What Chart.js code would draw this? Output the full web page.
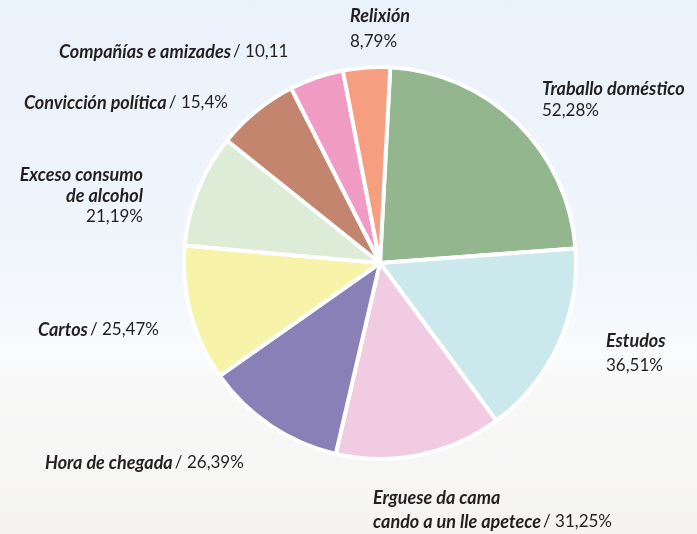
<!DOCTYPE html>
<html>
<head>
<meta charset="utf-8">
<script src="https://cdn.jsdelivr.net/npm/chart.js@4.4.1/dist/chart.umd.min.js"></script>
<style>
  html, body { margin: 0; padding: 0; }
  body {
    width: 697px; height: 534px; overflow: hidden;
    background: linear-gradient(to bottom, #e9f1fa 0%, #f1f6fc 50%, #f9fbfd 66%, #f9f9f9 70%, #f5f4f3 100%);
  }
  #wrap { position: relative; width: 697px; height: 534px; }
</style>
</head>
<body>
<div id="wrap"><canvas id="pie_chart" width="697" height="534"></canvas></div>
<script>
const categories = [
  'Traballo doméstico', 'Estudos', 'Erguese da cama cando a un lle apetece',
  'Hora de chegada', 'Cartos', 'Exceso consumo de alcohol',
  'Convicción política', 'Compañías e amizades', 'Relixión'
]
const values = [52.28, 36.51, 31.25, 26.39, 25.47, 21.19, 15.4, 10.11, 8.79]
const suffixes = ['%', '%', '%', '%', '%', '%', '%', '', '%']
const colors = [
  '#93b68f', '#cbe8ec', '#f0cbe1', '#8a80b8', '#f7f3a8',
  '#ddecd7', '#c3856d', '#ef9bc4', '#f59e80'
]

// how each label is broken into lines, where it sits relative to the pie centre
// (dx, dy of first line) and which way it is aligned; '/' puts the value inline
const labelLines = [
  [['Traballo doméstico'], ['@v']],
  [['Estudos'], ['@v']],
  [['Erguese da cama'], ['cando a un lle apetece', '/@v']],
  [['Hora de chegada', '/@v']],
  [['Cartos', '/@v']],
  [['Exceso consumo'], ['de alcohol'], ['@v']],
  [['Convicción política', '/@v']],
  [['Compañías e amizades', '/@v']],
  [['Relixión'], ['@v']]
]
const labelPlace = [
  [162, -174, 'left', 22], [226, 78, 'left', 25], [-7, 235, 'left', 24],
  [-335, 200, 'left', 0], [-342, 67, 'left', 0], [-237, -88, 'right', 21],
  [-356, -160, 'left', 0], [-321, -211, 'left', 0], [-30, -247, 'left', 26]
]

const fmt = (i) => values[i].toString().replace('.', ',') + suffixes[i]

const labelPlugin = {
  id: 'sliceLabels',
  afterDraw(chart) {
    const ctx = chart.ctx
    const arc = chart.getDatasetMeta(0).data[0]
    const cx = arc.x, cy = arc.y
    const boldFont = 'italic bold 18px Lato'
    const normFont = '17px Lato'
    ctx.save()
    ctx.fillStyle = '#231f20'
    ctx.textBaseline = 'middle'
    labelLines.forEach((lines, i) => {
      const [dx, dy, align, gap] = labelPlace[i]
      lines.forEach((line, li) => {
        const segs = line.map((s) => {
          if (s === '@v') return { t: fmt(i), f: normFont }
          if (s === '/@v') return { t: '\u2009/ ' + fmt(i), f: normFont }
          return { t: s, f: boldFont }
        })
        let w = 0
        segs.forEach((s) => { ctx.font = s.f; s.w = ctx.measureText(s.t).width; w += s.w })
        let x = cx + dx - (align === 'right' ? w : 0)
        const y = cy + dy + li * gap
        segs.forEach((s) => {
          ctx.font = s.f
          ctx.textAlign = 'left'
          ctx.fillText(s.t, x, y)
          x += s.w
        })
      })
    })
    ctx.restore()
  }
}

new Chart(document.getElementById('pie_chart').getContext('2d'), {
  type: 'pie',
  data: {
    labels: categories,
    datasets: [{
      data: values,
      backgroundColor: colors,
      borderColor: '#ffffff',
      borderWidth: 4,
    }],
  },
  options: {
    responsive: false,
    animation: false,
    rotation: 3,
    layout: { padding: { top: 64, bottom: 72, left: 182, right: 119 } },
    plugins: {
      legend: { display: false },
      tooltip: { enabled: false },
    },
  },
  plugins: [labelPlugin],
})
</script>
</body>
</html>
